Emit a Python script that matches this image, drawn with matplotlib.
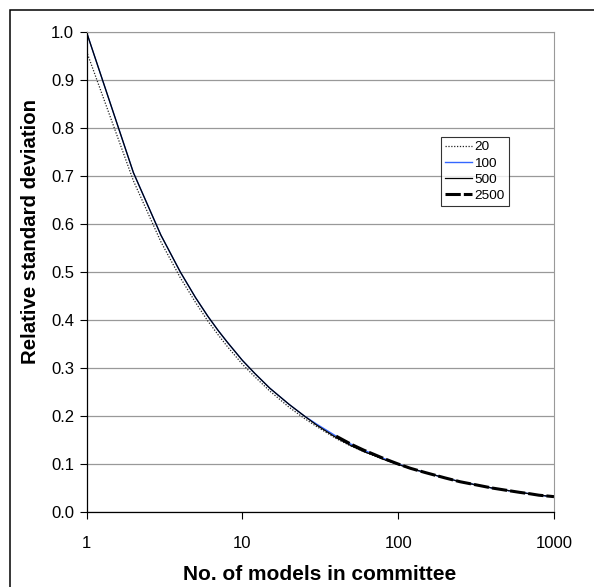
import matplotlib.pyplot as plt
from matplotlib.patches import Rectangle

plt.rcParams['font.family'] = ['Liberation Sans', 'DejaVu Sans']

# committee sizes and relative std
n_models = [1, 2, 3, 4, 5, 6, 7, 8, 10, 12, 15, 20, 25, 30, 40, 50, 60, 70, 80,
            100, 120, 150, 200, 250, 300, 400, 500, 600, 700, 800, 1000]
std_20 = [0.960, 0.690, 0.563, 0.488, 0.437, 0.398, 0.369, 0.345, 0.308, 0.282,
          0.252, 0.218, 0.195, 0.178, 0.153, 0.137, 0.126, 0.117, 0.110, 0.099,
          0.091, 0.082, 0.071, 0.063, 0.058, 0.050, 0.045, 0.041, 0.038, 0.035, 0.032]
std_100 = [1.000, 0.707, 0.577, 0.500, 0.447, 0.408, 0.378, 0.354, 0.316, 0.289,
           0.258, 0.224, 0.200, 0.183, 0.158, 0.141, 0.129, 0.120, 0.112, 0.100,
           0.091, 0.082, 0.071, 0.063, 0.058, 0.050, 0.045, 0.041, 0.038, 0.035, 0.032]
std_500 = [1.000, 0.707, 0.577, 0.500, 0.447, 0.408, 0.378, 0.354, 0.316, 0.289,
           0.258, 0.224, 0.200, 0.181, 0.155, 0.138, 0.126, 0.118, 0.110, 0.099,
           0.091, 0.082, 0.071, 0.063, 0.058, 0.050, 0.045, 0.041, 0.038, 0.035, 0.032]
n_2500 = [40, 50, 60, 70, 80, 100, 120, 150, 200, 250, 300, 400, 500, 600, 700, 800, 1000]
std_2500 = [0.158, 0.141, 0.129, 0.120, 0.112, 0.100, 0.091, 0.082, 0.071, 0.063,
            0.058, 0.050, 0.045, 0.041, 0.038, 0.035, 0.032]

y_ticks = [0.0, 0.1, 0.2, 0.3, 0.4, 0.5, 0.6, 0.7, 0.8, 0.9, 1.0]
x_ticks = [1, 10, 100, 1000]

fig = plt.figure(figsize=(5.94, 5.87), dpi=100)
ax = fig.add_axes([86.5/594, 1-512/587, (554-86.5)/594, (512-32)/587])

# outer chart border (runs off the right and bottom edges)
fig.patches.append(Rectangle((10/594, -0.01), 1.0, 1-10/587+0.01, transform=fig.transFigure,
                             fill=False, edgecolor='black', linewidth=1.1))

ax.plot(n_models, std_20, color='#222222', linestyle=(0, (1, 1.3)), linewidth=0.9, label='20')
ax.plot(n_models, std_100, color='#3366ff', linewidth=1.0, label='100')
ax.plot(n_models, std_500, color='black', linewidth=0.9, label='500')
ax.plot(n_2500, std_2500, color='black', linestyle=(0, (5, 1)), linewidth=2.2, label='2500')

ax.set_xscale('log')
ax.set_xlim(1, 1000)
ax.set_ylim(0, 1.0)
ax.set_xticks(x_ticks)
ax.set_xticklabels([str(t) for t in x_ticks])
ax.minorticks_off()
ax.set_yticks(y_ticks)
ax.set_yticklabels([f'{t:.1f}' for t in y_ticks])
ax.tick_params(labelsize=12, length=5, width=0.8, direction='out', pad=4)
ax.tick_params(axis='x', pad=12)

ax.grid(axis='y', color='#999999', linewidth=0.9)
ax.set_axisbelow(True)
for side in ['top', 'right']:
    ax.spines[side].set_color('#999999')
for side in ['left', 'bottom']:
    ax.spines[side].set_color('black')
    ax.spines[side].set_linewidth(0.9)

fig.text(320/594, 1-580/587, 'No. of models in committee', fontsize=15,
         fontweight='bold', ha='center', va='baseline')
fig.text(31/594, 1-231/587, 'Relative standard deviation', fontsize=14.7,
         fontweight='bold', ha='center', va='center', rotation=90)

leg = ax.legend(loc='upper left', bbox_to_anchor=((441-86.5)/467.5, (512-136.7)/480),
                fontsize=9.7, frameon=True, fancybox=False, handlelength=2.0,
                handletextpad=0.15, borderpad=0.32, labelspacing=0.27, borderaxespad=0)
leg.get_frame().set_edgecolor('black')
leg.get_frame().set_linewidth(0.8)

fig.savefig('out.png', dpi=100)
